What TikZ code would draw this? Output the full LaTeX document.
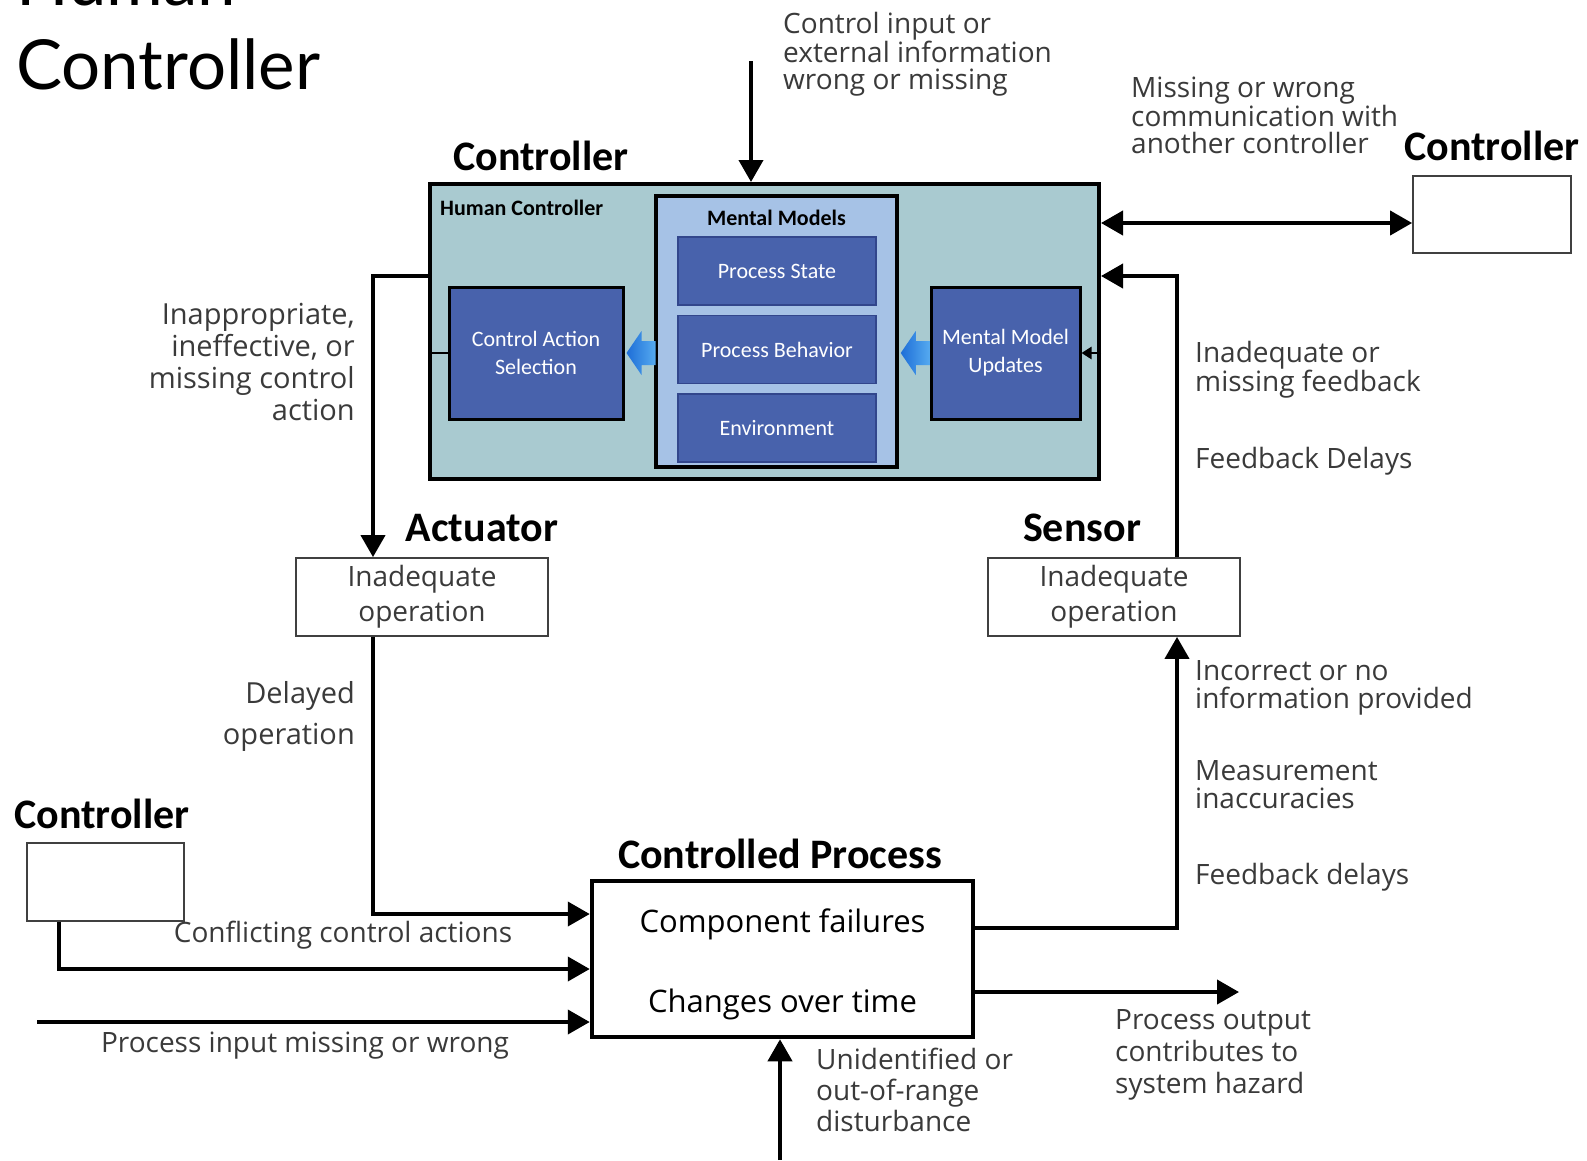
\documentclass[tikz,border=0pt]{standalone}
\usepackage{fontspec}
\setmainfont{Open Sans}
\newfontfamily\calfont{Carlito}
\newfontfamily\gillfont{Lato}
\usetikzlibrary{arrows.meta,positioning}
\definecolor{hcteal}{RGB}{169,202,208}
\definecolor{mmblue}{RGB}{166,194,230}
\definecolor{inblue}{RGB}{72,98,172}
\definecolor{inedge}{RGB}{50,70,140}
\definecolor{fatA}{RGB}{30,110,215}
\definecolor{fatB}{RGB}{85,170,240}
\definecolor{lblgray}{RGB}{58,58,58}
\tikzset{
  boxbase/.style={draw, align=center, inner sep=0pt},
  hcbox/.style={boxbase, fill=hcteal, line width=4pt},
  mmbox/.style={boxbase, fill=mmblue, line width=3.5pt},
  inbox/.style={boxbase, fill=inblue, draw=inedge, line width=1.5pt,
    text=white, font=\calfont\fontsize{22}{28}\selectfont},
  selbox/.style={inbox, draw=black, line width=3pt},
  opbox/.style={boxbase, draw=black!75, line width=1.8pt, fill=white,
    text=lblgray, font=\fontsize{28}{35}\selectfont},
  cpbox/.style={boxbase, line width=4.5pt, fill=white,
    font=\fontsize{31}{80}\selectfont},
  title/.style={font=\calfont\bfseries\fontsize{42}{42}\selectfont, inner sep=0pt},
  subtitle/.style={font=\calfont\bfseries\fontsize{22}{22}\selectfont, inner sep=0pt},
  lbl/.style={font=\fontsize{28}{28}\selectfont, text=lblgray, inner sep=0pt, align=left},
  arr/.style={-{Triangle[length=22pt,width=24pt]}, line width=4pt},
  biarr/.style={{Triangle[length=22pt,width=24pt]}-{Triangle[length=22pt,width=24pt]}, line width=4pt},
  tick/.style={-{Triangle[length=10pt,width=12pt]}, line width=2.5pt},
  fatarr/.style={left color=fatA, right color=fatB}
}

\begin{document}
\begin{tikzpicture}[x=1pt, y=-1pt, node distance=9pt]
  \path[use as bounding box, fill=white] (0,0) rectangle (1587,1160);

  \node[font=\gillfont\fontsize{69}{84}\selectfont, align=left, anchor=base west, inner sep=0pt] (pagetitle)
    at (16,89) {Human\\Controller};

  % human controller with its mental models
  \node[hcbox, minimum width=669pt, minimum height=295pt] (hc) at (764.5,331.5) {};
  \node[mmbox, minimum width=241pt, minimum height=271pt] (mm) at (776.5,331.5) {};
  \node[inbox, minimum width=198pt, minimum height=68pt] (ps) at (777,271) {Process State};
  \node[inbox, minimum width=198pt, minimum height=68pt, below=of ps] (pb) {Process Behavior};
  \node[inbox, minimum width=198pt, minimum height=68pt, below=of pb] (env) {Environment};
  \node[selbox, minimum width=174pt, minimum height=132pt] (cas) at (536,353) {Control Action\\Selection};
  \node[selbox, minimum width=149pt, minimum height=132pt] (mmu) at (1005.5,353) {Mental Model\\Updates};
  \node[subtitle, anchor=base west] (hclbl) at (440,215) {Human Controller};
  \node[subtitle, anchor=base] (mmlbl) at (mm.north |- 0,225) {Mental Models};
  \node[title, anchor=base west] (hctitle) at (453,170) {Controller};

  \path[fatarr] ([xshift=2pt]cas.east) -- ++(15,-22) -- ++(0,10) -- ++(14,0) -- ++(0,24)
    -- ++(-14,0) -- ++(0,10) -- cycle;
  \path[fatarr] ([xshift=2pt]mmu.west -| mm.east) -- ++(15,-22) -- ++(0,10) -- ++(14,0) -- ++(0,24)
    -- ++(-14,0) -- ++(0,10) -- cycle;

  % other controllers, actuator, sensor, process
  \node[opbox, minimum width=158pt, minimum height=77pt] (ctlR) at (1492,214.5) {};
  \node[title, anchor=base] (ctlRlbl) at (ctlR.north |- 0,160) {Controller};
  \node[opbox, minimum width=157pt, minimum height=78pt] (ctlL) at (105.5,882) {};
  \node[title, anchor=base] (ctlLlbl) at (102,828) {Controller};
  \node[opbox, minimum width=252pt, minimum height=78pt] (act) at (422,597) {Inadequate\\operation};
  \node[title, anchor=base] (actlbl) at (482,541) {Actuator};
  \node[opbox, minimum width=252pt, minimum height=78pt] (sen) at (1114,597) {Inadequate\\operation};
  \node[title, anchor=base] (senlbl) at (1082,541) {Sensor};
  \node[cpbox, minimum width=381pt, minimum height=156pt] (cp) at (782.5,959) {};
  \node[font=\fontsize{31}{80}\selectfont, align=center, inner sep=0pt] (cptxt) at ([yshift=-5pt]cp.center)
    {Component failures\\Changes over time};
  \node[title, anchor=base] (cplbl) at (780,868) {Controlled Process};

  % connectors
  \coordinate (cin) at (751,61);
  \draw[arr] (cin) -- (cin |- hc.north);
  \coordinate (comm) at (0,223);
  \draw[biarr] (hc.east |- comm) -- (ctlR.west |- comm);
  \coordinate (lo) at (373,276);
  \draw[arr] (hc.west |- lo) -| (act.north -| lo);
  \draw[line width=2.5pt] (cas.west) -- (cas.west -| hc.west);
  \coordinate (ain) at (0,914);
  \draw[arr] (act.south -| lo) |- (cp.west |- ain);
  \coordinate (cin2) at (59,969);
  \draw[arr] (ctlL.south -| cin2) |- (cp.west |- cin2);
  \coordinate (pin) at (37,1022);
  \draw[arr] (pin) -- (pin -| cp.west);
  \coordinate (dist) at (780,1160);
  \draw[arr] (dist) -- (dist |- cp.south);
  \coordinate (pout) at (1239,992);
  \draw[arr] (cp.east |- pout) -- (pout);
  \coordinate (fb) at (1177,928);
  \draw[arr] (cp.east |- fb) -| (sen.south -| fb);
  \coordinate (fbin) at (1177,276);
  \draw[arr] (sen.north -| fb) |- (hc.east |- fbin);
  \draw[tick] (hc.east |- mmu) -- (mmu.east);

  % labels
  \node[lbl, anchor=west, font=\fontsize{28}{27}\selectfont] (tctl) at (783,54)
    {Control input or\\external information\\wrong or missing};
  \node[lbl, anchor=west, font=\fontsize{28}{27}\selectfont] (tcomm) at (1131,115)
    {Missing or wrong\\communication with\\another controller};
  \node[lbl, align=right, anchor=east, font=\fontsize{29}{32}\selectfont] (tact) at (355,362)
    {Inappropriate,\\ineffective, or\\missing control\\action};
  \node[lbl, align=right, anchor=east, font=\fontsize{29}{41}\selectfont] (tdel) at (355,716)
    {Delayed\\operation};
  \node[lbl, anchor=west] (tfb1) at (1195,370) {Inadequate or\\missing feedback};
  \node[lbl, anchor=west] (tfb2) at (1195,461) {Feedback Delays};
  \node[lbl, anchor=west] (tsen1) at (1195,688) {Incorrect or no\\information provided};
  \node[lbl, anchor=west] (tsen2) at (1195,785) {Measurement\\inaccuracies};
  \node[lbl, anchor=west] (tsen3) at (1195,877) {Feedback delays};
  \node[lbl] (tconf) at (343,935) {Conflicting control actions};
  \node[lbl] (tpin) at (305,1046) {Process input missing or wrong};
  \node[lbl, anchor=west, font=\fontsize{28}{31}\selectfont] (tdist) at (816,1090)
    {Unidentified or\\out-of-range\\disturbance};
  \node[lbl, anchor=west, font=\fontsize{28}{32}\selectfont] (tout) at (1115,1055)
    {Process output\\contributes to\\system hazard};
\end{tikzpicture}
\end{document}
